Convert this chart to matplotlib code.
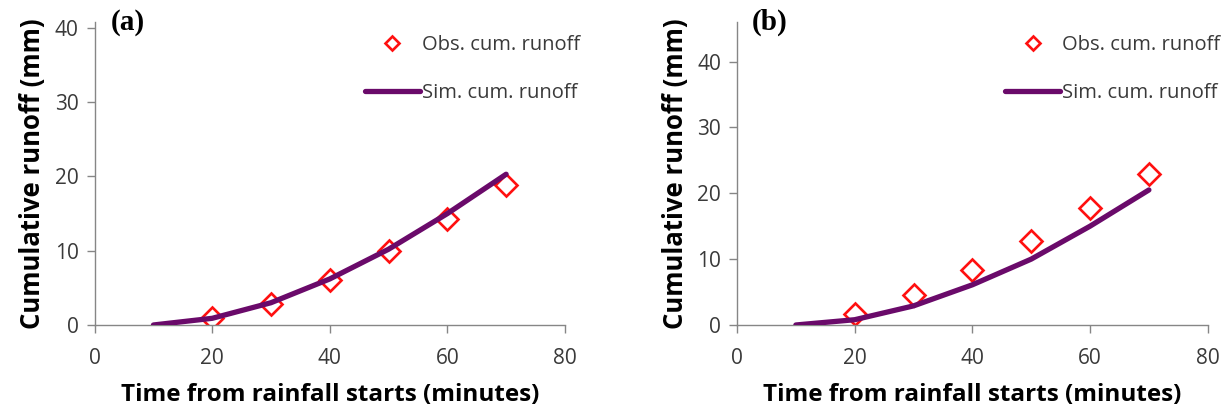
import matplotlib
matplotlib.use('Agg')
import matplotlib.pyplot as plt

# time after rainfall start (minutes)
t_obs = [20, 30, 40, 50, 60, 70]
t_sim = [10, 20, 30, 40, 50, 60, 70]

# panel (a)
obs_a = [1.0, 2.8, 6.0, 9.9, 14.3, 18.8]
sim_a = [0.0, 0.9, 3.0, 6.2, 10.2, 15.0, 20.3]

# panel (b)
obs_b = [1.6, 4.5, 8.3, 12.8, 17.7, 22.9]
sim_b = [0.0, 0.8, 2.9, 6.1, 10.0, 15.0, 20.5]

panels = ['(a)', '(b)']
ymax = [40.8, 46]
x_ticks = [0, 20, 40, 60, 80]
y_ticks = [0, 10, 20, 30, 40]

plt.rcParams['font.family'] = ['Open Sans', 'DejaVu Sans']

fig = plt.figure(figsize=(12.31, 4.12), dpi=100)
ax_a = fig.add_axes([0.0769, 0.2112, 0.382, 0.7354])
ax_b = fig.add_axes([0.5987, 0.2112, 0.3824, 0.7354])

grey = '#868686'
for ax, obs, sim, lab, top, legx, labx in [
        (ax_a, obs_a, sim_a, panels[0], ymax[0], 0.471, 0.090),
        (ax_b, obs_b, sim_b, panels[1], ymax[1], 0.991, 0.611)]:
    ax.plot(t_sim, sim, color='#6a0a6a', lw=3.8, solid_capstyle='round',
            label='Sim. cum. runoff', zorder=3)
    ax.plot(t_obs, obs, ls='none', marker='D', ms=11, mfc='none',
            mec='#ff1010', mew=1.9, label='Obs. cum. runoff', zorder=2)
    ax.set_xlim(0, 80)
    ax.set_ylim(0, top)
    ax.set_xticks(x_ticks)
    ax.set_yticks(y_ticks)
    for s in ['top', 'right']:
        ax.spines[s].set_visible(False)
    for s in ['left', 'bottom']:
        ax.spines[s].set_color(grey)
        ax.spines[s].set_linewidth(1.0)
    ax.tick_params(colors=grey, labelcolor='#3a3a3a', labelsize=15,
                   length=5.5, width=1.0, direction='out', pad=6)
    ax.tick_params(axis='x', pad=11)
    ax.set_xlabel('Time from rainfall starts (minutes)', fontsize=17.5,
                  fontweight='bold', labelpad=10)
    ax.set_ylabel('Cumulative runoff (mm)', fontsize=18.5,
                  fontweight='bold', labelpad=6)
    h, l = ax.get_legend_handles_labels()
    ax.legend(h[::-1], l[::-1], loc='upper right', bbox_to_anchor=(legx, 0.915),
              bbox_transform=fig.transFigure, frameon=False, fontsize=14.5,
              labelspacing=1.4, handlelength=2.7, handletextpad=0.1,
              borderpad=0, borderaxespad=0,
              markerscale=0.65, labelcolor='#3a3a3a')
    fig.text(labx, 0.945, lab, family='Liberation Serif', fontweight='bold',
             fontsize=21, va='center')

fig.savefig('out.png', dpi=100)
